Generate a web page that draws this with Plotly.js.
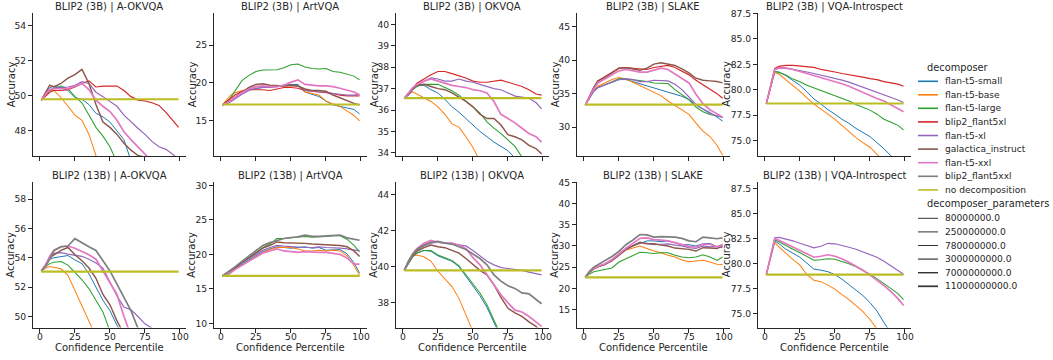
<!DOCTYPE html>
<html><head><meta charset="utf-8">
<script src="https://cdn.plot.ly/plotly-3.0.1.min.js"></script>
<style>html,body{margin:0;padding:0;background:#fff}#chart{width:1053px;height:360px}</style>
</head><body><div id="chart"></div>
<script>
// ---------------- data ----------------
const percentile = [1,4,7,10,15,20,25,30,35,40,45,50,55,60,65,70,75,80,85,90,95,99];

const decomposers = ['flan-t5-small','flan-t5-base','flan-t5-large','blip2_flant5xl','flan-t5-xl','galactica_instruct','flan-t5-xxl','blip2_flant5xxl','no decomposition'];
const decomposerKeys = ['small','base','large','b2xl','xl','gal','xxl','b2xxl'];
const decomposerParams = [80000000, 250000000, 780000000, 3000000000, 3000000000, 7000000000, 11000000000, 11000000000];
const paramLevels = [80000000, 250000000, 780000000, 3000000000, 7000000000, 11000000000];
const paramLabels = ['80000000.0','250000000.0','780000000.0','3000000000.0','7000000000.0','11000000000.0'];

const models = ['BLIP2 (3B)','BLIP2 (13B)'];
const datasets = ['A-OKVQA','ArtVQA','OKVQA','SLAKE','VQA-Introspect'];
const xTitle = 'Confidence Percentile';
const yTitle = 'Accuracy';

// no decomposition accuracy per dataset
const baseline3B  = [49.8, 17.15, 36.56, 33.35, 78.65];
const baseline13B = [53.05, 16.9, 39.8, 22.6, 78.9];

// BLIP2 (3B) | A-OKVQA
const aok3_small = [49.75,50.2,50.45,50.55,50.45,50.3,49.9,49.8,49.5,49.0,48.8,48.5,48.0,47.5,46.3,45.6,45.0,44.5,44.0,43.5,43.0,42.6];
const aok3_base  = [49.75,50.0,50.3,50.3,49.9,49.4,48.9,48.6,47.8,46.6,45.6,44.8,44.0,43.3,42.6,42.0,41.5,41.0,40.5,40.0,39.5,39.0];
const aok3_large = [49.75,50.1,50.3,50.4,50.55,50.4,49.95,49.6,48.9,48.2,47.7,47.1,46.2,45.5,44.8,44.2,43.6,43.0,42.5,42.0,41.5,41.0];
const aok3_b2xl  = [49.75,50.0,50.2,50.3,50.3,50.35,50.5,50.7,50.85,50.5,50.55,50.55,50.55,50.3,49.95,49.75,49.7,49.6,49.45,49.05,48.55,48.2];
const aok3_xl    = [49.75,50.1,50.3,50.45,50.45,50.5,50.6,50.8,50.7,50.2,49.95,49.7,49.4,48.9,48.5,48.15,47.8,47.4,47.1,46.95,46.65,46.4];
const aok3_gal   = [49.75,50.2,50.6,50.5,50.7,51.0,51.2,51.5,50.7,49.5,48.5,48.2,47.8,47.3,46.9,46.6,46.5,46.2,45.8,45.3,44.8,44.3];
const aok3_xxl   = [49.75,50.1,50.35,50.4,50.4,50.4,50.55,50.7,50.35,49.75,49.4,49.1,48.6,47.95,47.5,47.1,46.7,46.3,45.9,45.5,45.1,44.7];

// BLIP2 (3B) | ArtVQA
const art3_small = [17.1,17.3,17.7,18.1,18.7,19.1,19.3,19.4,19.5,19.6,19.7,19.8,19.8,18.8,18.5,18.2,17.6,17.1,16.9,16.7,16.5,15.9];
const art3_base  = [17.1,17.8,18.4,18.7,19.0,19.3,19.5,19.5,19.5,19.6,19.6,19.7,19.6,18.8,18.6,18.4,17.6,17.3,16.9,16.3,15.7,15.0];
const art3_large = [17.1,17.5,18.1,18.9,20.3,21.0,21.5,21.7,21.7,21.75,22.0,22.4,22.5,22.1,21.9,21.85,21.9,21.5,21.4,21.2,20.9,20.4];
const art3_b2xl  = [17.1,17.5,18.0,18.4,18.9,19.1,19.1,19.1,19.0,19.2,19.4,19.4,19.3,19.0,18.9,18.8,18.7,18.6,18.4,18.3,18.3,18.3];
const art3_xl    = [17.1,17.2,17.5,17.9,18.5,19.0,19.3,19.4,19.4,19.5,19.6,19.7,19.6,19.0,18.9,18.8,18.8,18.6,18.5,18.4,18.4,18.5];
const art3_gal   = [17.1,17.3,17.7,18.1,18.8,19.4,19.8,19.9,19.7,19.6,19.6,19.7,19.6,19.2,19.0,19.0,18.9,18.4,18.0,17.6,17.3,17.1];
const art3_xxl   = [17.1,17.3,17.7,18.1,18.7,19.2,19.5,19.6,19.5,19.5,19.7,20.1,20.4,19.8,19.7,19.6,19.6,19.5,19.3,19.1,18.8,18.4];

// BLIP2 (3B) | OKVQA
const ok3_small = [36.55,36.75,37.0,37.15,37.15,36.95,36.8,36.5,36.15,35.9,35.6,35.3,35.0,34.75,34.5,34.3,34.1,33.75,33.4,33.0,32.6,32.3];
const ok3_base  = [36.55,36.75,36.85,36.75,36.6,36.4,36.15,35.8,35.35,35.2,34.75,34.25,33.6,33.0,32.5,32.0,31.5,31.0,30.5,30.0,29.5,29.0];
const ok3_large = [36.55,36.75,36.95,37.1,37.2,37.2,37.2,37.05,36.9,36.7,36.4,36.15,35.85,35.45,35.15,34.9,34.6,34.3,33.8,33.4,33.0,32.6];
const ok3_b2xl  = [36.55,36.75,37.0,37.25,37.45,37.65,37.8,37.8,37.7,37.6,37.5,37.35,37.3,37.3,37.35,37.4,37.3,37.2,37.1,36.95,36.75,36.7];
const ok3_xl    = [36.55,36.7,36.95,37.15,37.35,37.5,37.45,37.35,37.35,37.45,37.35,37.3,37.2,37.1,37.0,36.95,36.8,36.65,36.6,36.55,36.35,36.05];
const ok3_gal   = [36.55,36.8,37.0,37.15,37.2,37.1,37.0,36.95,36.8,36.6,36.4,36.15,35.8,35.6,35.6,35.3,34.85,34.75,34.6,34.35,34.2,33.95];
const ok3_xxl   = [36.55,36.8,37.05,37.2,37.35,37.45,37.35,37.25,37.15,37.1,37.05,36.95,36.9,36.8,36.4,35.8,35.6,35.4,35.15,34.9,34.75,34.5];

// BLIP2 (3B) | SLAKE
const sl3_small = [33.3,34.3,35.3,35.9,36.3,36.7,37.1,37.1,36.8,36.4,36.1,35.9,35.6,35.3,35.0,34.6,34.1,33.3,32.7,32.2,31.5,30.9];
const sl3_base  = [33.3,34.4,35.5,36.1,36.6,37.1,37.4,37.2,36.7,36.2,35.7,35.2,34.7,33.9,33.2,32.6,31.9,30.6,29.4,28.6,27.3,25.8];
const sl3_large = [33.3,34.3,35.4,35.9,36.3,36.8,37.2,37.2,37.1,37.0,36.8,36.6,36.5,36.5,35.6,34.8,34.1,33.0,32.3,31.9,31.7,31.5];
const sl3_b2xl  = [33.3,34.6,35.9,36.9,37.5,38.2,38.8,38.9,38.8,38.6,38.6,38.9,39.1,39.2,38.9,38.4,37.8,37.0,36.3,35.7,35.0,34.3];
const sl3_xl    = [33.3,34.3,35.4,35.9,36.3,36.7,37.1,37.2,37.1,36.8,36.8,37.0,37.0,36.9,36.4,35.6,34.5,33.4,32.7,32.0,31.7,31.4];
const sl3_gal   = [33.3,34.6,35.9,36.9,37.4,38.1,38.8,38.85,38.7,38.5,38.8,39.4,39.6,39.45,39.2,38.7,38.1,37.3,37.0,36.9,36.8,36.6];
const sl3_xxl   = [33.3,34.5,35.7,36.6,37.2,37.9,38.4,38.6,38.4,38.2,38.2,38.5,38.8,38.6,37.9,37.2,36.6,34.9,33.5,32.6,32.0,31.5];

// BLIP2 (3B) | VQA-Introspect
const vi3_small = [78.65,80.2,81.8,81.75,81.4,80.9,80.45,79.8,79.1,78.6,78.05,77.6,77.1,76.7,76.2,75.8,75.4,74.8,74.2,73.5,72.9,72.4];
const vi3_base  = [78.65,80.1,81.7,81.55,81.0,80.4,79.85,79.2,78.6,78.1,77.6,77.1,76.5,75.9,75.3,74.8,74.35,73.65,73.0,72.4,71.8,71.3];
const vi3_large = [78.65,80.2,81.8,81.7,81.45,81.05,80.8,80.45,80.2,79.9,79.65,79.45,79.2,78.9,78.55,78.3,78.0,77.6,77.1,76.8,76.5,76.05];
const vi3_b2xl  = [78.65,80.4,82.1,82.3,82.4,82.4,82.35,82.3,82.2,82.0,81.9,81.75,81.6,81.5,81.4,81.25,81.1,81.0,80.8,80.65,80.55,80.35];
const vi3_xl    = [78.65,80.4,82.0,82.1,82.1,82.0,81.9,81.75,81.6,81.45,81.3,81.1,80.95,80.75,80.5,80.3,80.05,79.8,79.55,79.3,79.0,78.75];
const vi3_xxl   = [78.65,80.4,82.0,82.15,82.15,82.0,81.8,81.6,81.4,81.25,81.05,80.85,80.6,80.35,80.05,79.75,79.4,79.15,78.9,78.55,78.2,77.85];

// BLIP2 (13B) | A-OKVQA
const aok13_small = [53.1,53.5,53.9,54.0,54.1,54.15,53.85,53.6,52.9,52.0,51.1,50.4,49.4,48.6,47.8,47.1,46.4,45.8,45.2,44.6,44.0,43.5];
const aok13_base  = [53.1,53.3,53.4,53.35,53.25,52.8,51.7,50.7,49.6,48.6,47.6,46.8,46.0,45.3,44.6,44.0,43.4,42.8,42.3,41.8,41.3,40.8];
const aok13_large = [53.1,53.4,53.6,53.7,53.75,53.5,53.0,52.5,51.9,51.1,50.3,49.0,48.0,47.2,46.5,45.8,45.2,44.6,44.0,43.5,43.0,42.5];
const aok13_xl    = [53.1,53.6,54.0,54.3,54.35,54.25,54.2,54.1,53.9,53.65,53.3,52.4,51.4,50.65,50.45,50.0,49.5,49.2,48.5,47.8,47.2,46.6];
const aok13_gal   = [53.1,53.5,54.0,54.2,54.5,54.7,54.2,53.8,53.3,52.6,51.5,50.8,49.7,48.8,48.0,47.3,46.6,46.0,45.4,44.8,44.3,43.8];
const aok13_xxl   = [53.1,53.5,54.1,54.5,54.75,54.8,54.65,54.45,54.2,53.9,53.1,52.3,51.5,50.0,48.7,47.8,47.0,46.3,45.6,45.0,44.4,43.9];
const aok13_b2xxl = [53.1,53.4,53.9,54.5,54.75,54.8,55.3,55.0,54.75,54.5,53.8,53.1,52.2,51.3,50.4,49.2,48.2,47.3,46.5,45.8,45.1,44.5];

// BLIP2 (13B) | ArtVQA
const art13_small = [16.9,17.2,17.5,17.9,18.6,19.2,19.8,20.4,20.8,21.1,21.0,20.9,21.0,21.1,20.9,21.0,20.6,20.7,20.7,20.1,18.8,17.3];
const art13_base  = [16.9,17.1,17.4,17.8,18.4,19.0,19.7,20.3,20.7,21.0,21.0,21.0,20.8,20.5,20.5,20.6,20.5,20.6,20.5,19.8,18.4,17.0];
const art13_large = [16.9,17.0,17.3,17.9,18.8,19.5,20.3,21.0,21.5,22.3,22.3,22.4,22.5,22.6,22.5,22.5,22.6,22.7,22.7,22.2,21.3,20.4];
const art13_xl    = [16.9,17.2,17.6,18.0,18.8,19.4,20.0,20.6,21.0,21.3,21.2,21.1,21.1,21.0,21.0,21.1,21.0,21.0,20.9,20.8,20.6,20.5];
const art13_gal   = [16.9,17.2,17.6,18.0,18.9,19.5,20.2,20.9,21.3,21.8,21.7,21.7,21.6,21.6,21.5,21.45,21.4,21.35,21.3,21.1,20.5,19.7];
const art13_xxl   = [16.9,17.1,17.4,17.8,18.4,19.0,19.6,20.2,20.5,20.8,20.5,20.4,20.3,20.4,20.3,20.3,20.3,20.2,20.0,19.5,18.6,18.6];
const art13_b2xxl = [16.9,17.3,17.7,18.2,19.0,19.8,20.6,21.3,21.7,22.0,22.3,22.45,22.55,22.8,22.6,22.6,22.7,22.75,22.8,22.4,22.2,22.05];

// BLIP2 (13B) | OKVQA
const ok13_small = [39.8,40.2,40.55,40.75,40.9,40.85,40.6,40.45,40.3,40.0,39.45,38.95,38.4,37.75,36.9,36.1,35.5,34.9,34.4,33.9,33.4,32.9];
const ok13_base  = [39.8,40.3,40.6,40.65,40.55,40.3,39.75,39.3,38.9,38.25,37.3,36.3,35.5,34.8,34.2,33.6,33.0,32.5,32.0,31.5,31.0,30.5];
const ok13_large = [39.8,40.2,40.55,40.75,40.9,40.9,40.65,40.5,40.35,40.05,39.55,39.1,38.55,37.9,37.0,36.2,35.6,35.0,34.5,34.0,33.5,33.0];
const ok13_xl    = [39.8,40.3,40.65,40.9,41.15,41.3,41.35,41.3,41.25,41.2,41.15,40.9,40.6,40.3,40.1,39.95,39.9,39.85,39.8,39.7,39.6,39.55];
const ok13_gal   = [39.8,40.25,40.6,40.85,41.05,41.2,41.1,41.05,40.9,40.75,40.45,40.1,39.8,39.55,39.0,38.3,37.7,37.45,37.25,36.95,36.7,36.4];
const ok13_xxl   = [39.8,40.3,40.7,41.0,41.3,41.45,41.35,41.3,41.3,41.2,41.0,40.5,40.1,39.55,39.0,38.45,38.0,37.6,37.5,37.25,36.95,36.7];
const ok13_b2xxl = [39.8,40.3,40.7,40.95,41.2,41.35,41.4,41.3,41.25,41.1,40.95,40.7,40.45,40.1,39.55,39.2,38.95,38.8,38.55,38.5,38.2,37.95];

// BLIP2 (13B) | SLAKE
const sl13_small = [22.6,23.8,24.6,25.1,25.7,26.6,27.9,29.2,30.0,30.6,31.2,31.2,31.0,31.2,30.8,30.3,30.3,30.0,30.5,30.6,29.8,30.4];
const sl13_base  = [22.6,23.8,24.5,25.0,25.6,26.5,27.8,29.0,29.5,30.0,29.4,28.8,28.4,27.8,27.4,26.7,26.3,26.4,26.6,26.2,25.7,25.6];
const sl13_large = [22.6,23.4,23.9,24.1,24.3,24.8,26.2,27.0,27.8,28.5,28.4,28.2,28.4,28.4,27.8,27.4,27.2,27.4,27.9,27.4,26.6,27.4];
const sl13_xl    = [22.6,23.8,24.6,25.1,25.6,26.5,27.8,29.1,30.0,30.9,30.6,30.3,30.4,30.5,30.2,30.0,29.6,29.4,30.0,29.8,29.9,29.6];
const sl13_gal   = [22.6,23.8,24.6,25.1,25.7,26.6,27.9,29.3,30.1,30.8,30.5,30.5,30.2,30.0,29.5,29.4,29.2,28.8,29.6,29.5,29.4,30.0];
const sl13_xxl   = [22.6,23.9,24.7,25.2,25.8,26.8,28.1,29.5,30.6,31.8,31.9,31.5,31.4,31.2,30.8,30.3,29.9,29.7,30.4,30.4,29.8,30.2];
const sl13_b2xxl = [22.6,24.0,25.0,25.6,26.4,27.5,28.7,30.3,31.4,32.7,32.6,32.1,32.2,32.2,32.1,31.8,31.2,31.0,32.1,31.9,31.7,31.9];

// BLIP2 (13B) | VQA-Introspect
const vi13_small = [78.9,80.5,82.3,82.0,81.45,81.05,80.65,80.05,79.45,79.35,79.2,78.9,78.45,77.9,77.35,76.8,76.1,75.25,74.1,73.0,72.0,71.2];
const vi13_base  = [78.9,80.5,82.15,81.7,81.0,80.4,79.85,78.9,78.35,78.2,77.85,77.45,76.9,76.4,75.8,75.2,74.4,73.4,72.5,71.6,70.8,70.0];
const vi13_large = [78.9,80.6,82.4,82.2,81.8,81.45,81.1,80.7,80.35,80.4,80.5,80.45,80.25,80.0,79.7,79.35,78.95,78.5,78.0,77.5,77.0,76.4];
const vi13_xl    = [78.9,80.7,82.6,82.65,82.5,82.3,82.05,81.8,81.6,81.75,82.05,82.0,81.85,81.65,81.45,81.2,80.95,80.65,80.25,79.8,79.35,78.95];
const vi13_xxl   = [78.9,80.6,82.5,82.35,82.0,81.65,81.3,80.95,80.65,80.75,80.9,80.75,80.5,80.15,79.75,79.35,78.85,78.35,77.8,77.2,76.5,75.8];

// ---------------- panel table ----------------
const panelSeries = [
  {small:aok3_small, base:aok3_base, large:aok3_large, b2xl:aok3_b2xl, xl:aok3_xl, gal:aok3_gal, xxl:aok3_xxl},
  {small:art3_small, base:art3_base, large:art3_large, b2xl:art3_b2xl, xl:art3_xl, gal:art3_gal, xxl:art3_xxl},
  {small:ok3_small, base:ok3_base, large:ok3_large, b2xl:ok3_b2xl, xl:ok3_xl, gal:ok3_gal, xxl:ok3_xxl},
  {small:sl3_small, base:sl3_base, large:sl3_large, b2xl:sl3_b2xl, xl:sl3_xl, gal:sl3_gal, xxl:sl3_xxl},
  {small:vi3_small, base:vi3_base, large:vi3_large, b2xl:vi3_b2xl, xl:vi3_xl, xxl:vi3_xxl},
  {small:aok13_small, base:aok13_base, large:aok13_large, xl:aok13_xl, gal:aok13_gal, xxl:aok13_xxl, b2xxl:aok13_b2xxl},
  {small:art13_small, base:art13_base, large:art13_large, xl:art13_xl, gal:art13_gal, xxl:art13_xxl, b2xxl:art13_b2xxl},
  {small:ok13_small, base:ok13_base, large:ok13_large, xl:ok13_xl, gal:ok13_gal, xxl:ok13_xxl, b2xxl:ok13_b2xxl},
  {small:sl13_small, base:sl13_base, large:sl13_large, xl:sl13_xl, gal:sl13_gal, xxl:sl13_xxl, b2xxl:sl13_b2xxl},
  {small:vi13_small, base:vi13_base, large:vi13_large, xl:vi13_xl, xxl:vi13_xxl}
];
const panelBaselines = baseline3B.concat(baseline13B);

// ---------------- styling / layout ----------------
const W = 1053, H = 360;
const colors = ['#1f77b4','#ff7f0e','#2ca02c','#d62728','#9467bd','#8c564b','#e377c2','#7f7f7f','#bcbd22'];
const txt = '#262626';
const FONT = 'DejaVu Sans, Verdana, sans-serif';
const colLeft = [33, 214, 396, 577, 758];
const colW = 152.5;
const rowTop = [12.5, 182];
const rowBot = [156, 327.5];
const yTitleGap = [22, 22, 22, 22, 31.5];   // distance spine -> rotated label centre
const yRanges = [[46.57,54.74],[10.35,29.3],[33.85,40.56],[25.7,47.1],[73.49,87.6],
                 [49.25,59.16],[9.42,30.48],[36.64,44.68],[10.75,45.1],[73.6,88.2]];
const yDticks = [2,5,1,5,2.5, 2,5,2,5,2.5];
const pMin = paramLevels[0], pMax = paramLevels[paramLevels.length-1];
function widthFor(p){ return 1.0 + 0.7*(p - pMin)/(pMax - pMin); }

const traces = [];
const layout = {
  width: W, height: H, margin:{l:0,r:0,t:0,b:0},
  paper_bgcolor:'#fff', plot_bgcolor:'#fff', showlegend:false,
  font:{family:FONT, size:9, color:txt},
  annotations:[], shapes:[]
};

for (let i = 0; i < 10; i++) {
  const row = i < 5 ? 0 : 1, col = i % 5;
  const ax = i === 0 ? '' : String(i+1);
  const xa = 'x'+ax, ya = 'y'+ax;
  const ser = panelSeries[i];
  decomposerKeys.forEach((k, j) => {
    if (!ser[k]) return;
    traces.push({
      type:'scatter', mode:'lines', x: percentile, y: ser[k], xaxis: xa, yaxis: ya,
      name: decomposers[j], line:{color: colors[j], width: widthFor(decomposerParams[j])},
      hoverinfo:'skip'
    });
  });
  traces.push({
    type:'scatter', mode:'lines', x:[percentile[0], percentile[percentile.length-1]],
    y:[panelBaselines[i], panelBaselines[i]], xaxis: xa, yaxis: ya,
    name:'no decomposition', line:{color: colors[8], width: 2.2}, hoverinfo:'skip'
  });

  const x0 = colLeft[col]/W, x1 = (colLeft[col]+colW)/W;
  const y0 = 1 - rowBot[row]/H, y1 = 1 - rowTop[row]/H;
  layout['xaxis'+ax] = {
    domain:[x0,x1], anchor: ya, range:[-4.95,103.95],
    tickvals:[0,25,50,75,100], showticklabels: row === 1,
    ticks:'outside', ticklen:4, tickwidth:1, tickcolor:txt, ticklabelstandoff:-4,
    showline:true, linecolor:txt, linewidth:1, showgrid:false, zeroline:false,
    tickfont:{size:9.2, color:txt, family:FONT}
  };
  layout['yaxis'+ax] = {
    domain:[y0,y1], anchor: xa, range: yRanges[i],
    tick0:0, dtick: yDticks[i], tickformat: col === 4 ? '.1f' : '',
    ticks:'outside', ticklen:4, tickwidth:1, tickcolor:txt,
    showline:true, linecolor:txt, linewidth:1, showgrid:false, zeroline:false,
    tickfont:{size:9.2, color:txt, family:FONT}
  };
  // subplot title
  layout.annotations.push({
    xref:'paper', yref:'paper', x:(x0+x1)/2, y: 1 - (row === 0 ? 6.5 : 175.5)/H,
    xanchor:'center', yanchor:'middle', showarrow:false,
    text: models[row] + ' | ' + datasets[col], font:{size:10, color:txt, family:FONT}
  });
  // y axis title
  layout.annotations.push({
    xref:'paper', yref:'paper', x:(colLeft[col]-yTitleGap[col])/W, y:(y0+y1)/2,
    xanchor:'center', yanchor:'middle', textangle:-90, showarrow:false,
    text: yTitle, font:{size:10, color:txt, family:FONT}
  });
  // x axis title (bottom row)
  if (row === 1) {
    layout.annotations.push({
      xref:'paper', yref:'paper', x:(x0+x1)/2, y: 1 - 347/H,
      xanchor:'center', yanchor:'middle', showarrow:false,
      text: xTitle, font:{size:10, color:txt, family:FONT}
    });
  }
}

// ---------------- legend (drawn) ----------------
const legX0 = 918, legX1 = 938, legTextX = 943, legTitleX = 925;
const hueY = [81.3, 94.8, 108.3, 121.9, 135.5, 149.1, 162.7, 176.3, 189.9];
const sizeY = [218.3, 231.9, 245.5, 259.1, 272.7, 286.3];
function legLine(y, color, width){
  layout.shapes.push({type:'line', xref:'paper', yref:'paper',
    x0: legX0/W, x1: legX1/W, y0: 1-y/H, y1: 1-y/H, line:{color, width}});
}
function legText(x, y, text, size){
  layout.annotations.push({xref:'paper', yref:'paper', x: x/W, y: 1-y/H,
    xanchor:'left', yanchor:'middle', showarrow:false, text,
    font:{size, color:txt, family:FONT}});
}
legText(legTitleX, 67.3, 'decomposer', 9.8);
decomposers.forEach((d, j) => { legLine(hueY[j], colors[j], 1.6); legText(legTextX, hueY[j], d, 9.1); });
legText(legTitleX, 204.3, 'decomposer_parameters', 9.8);
paramLabels.forEach((p, j) => { legLine(sizeY[j], '#333333', widthFor(paramLevels[j])); legText(legTextX, sizeY[j], p, 9.1); });

Plotly.newPlot('chart', traces, layout, {staticPlot:true, displayModeBar:false});
</script>
</body></html>
